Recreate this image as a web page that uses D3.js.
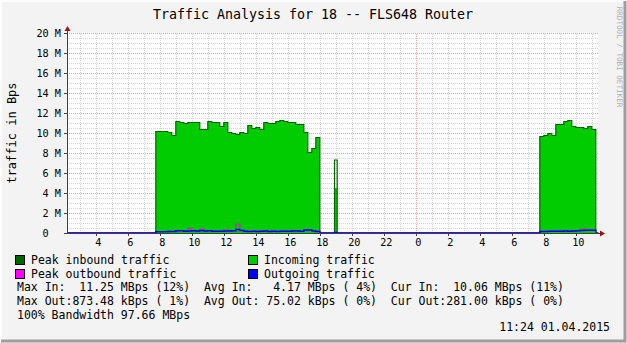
<!DOCTYPE html>
<html>
<head>
<meta charset="utf-8">
<script src="https://cdn.jsdelivr.net/npm/d3@7"></script>
<style>
  body { margin: 0; background: #f3f3f3; }
  text { font-family: "DejaVu Sans Mono", monospace; white-space: pre; }
</style>
</head>
<body>
<script>
// time is in hours relative to midnight of 01.04.2015 (negative = 31.03)
var viewStart = -21.8,
    viewEnd = 11.4;

var xTickHours = [-20, -18, -16, -14, -12, -10, -8, -6, -4, -2, 0, 2, 4, 6, 8, 10];
var xTickLabels = ["4", "6", "8", "10", "12", "14", "16", "18", "20", "22", "0", "2", "4", "6", "8", "10"];
var yTickValues = [0, 2, 4, 6, 8, 10, 12, 14, 16, 18, 20];
var yTickLabels = ["0  ", "2 M", "4 M", "6 M", "8 M", "10 M", "12 M", "14 M", "16 M", "18 M", "20 M"];

// day 1 block, 07:45 -> 18:00, 15 min steps, values in MBps
var day1Start = -16.25, day1Step = 0.25;
var day1In = [10.1, 10.1, 10.1, 10.0, 9.7, 11.1, 11.0, 10.9, 11.0, 11.0, 11.0, 10.3, 10.3, 11.1,
              11.0, 11.0, 10.6, 11.0, 10.0, 9.9, 9.8, 10.0, 9.9, 10.7, 10.4, 10.5, 10.3, 11.0,
              10.9, 10.9, 11.1, 11.2, 11.1, 11.0, 11.0, 10.8, 10.8, 10.0, 8.0, 8.4, 9.5];
var day1PeakIn = [10.15, 10.15, 10.15, 10.05, 9.75, 11.15, 11.05, 10.95, 11.05, 11.05, 11.05, 10.35, 10.35, 11.15,
                  11.05, 11.05, 10.65, 11.05, 10.05, 9.95, 9.85, 10.05, 9.95, 10.75, 10.45, 10.55, 10.35, 11.05,
                  10.95, 10.95, 11.15, 11.25, 11.15, 11.05, 11.05, 10.85, 10.85, 10.05, 8.05, 8.45, 9.55];
var day1Out = [0.13, 0.13, 0.13, 0.14, 0.15, 0.22, 0.22, 0.18, 0.2, 0.22, 0.2, 0.25, 0.2, 0.22,
               0.18, 0.17, 0.17, 0.2, 0.2, 0.22, 0.35, 0.25, 0.18, 0.15, 0.17, 0.16, 0.18, 0.2,
               0.16, 0.18, 0.15, 0.17, 0.18, 0.17, 0.2, 0.2, 0.18, 0.3, 0.3, 0.2, 0.15];
var day1PeakOut = [0.15, 0.15, 0.15, 0.16, 0.17, 0.24, 0.24, 0.2, 0.47, 0.24, 0.22, 0.37, 0.22, 0.24,
                   0.2, 0.19, 0.19, 0.3, 0.22, 0.24, 0.87, 0.27, 0.2, 0.17, 0.19, 0.18, 0.2, 0.22,
                   0.18, 0.2, 0.17, 0.19, 0.2, 0.19, 0.22, 0.22, 0.2, 0.33, 0.32, 0.22, 0.17];

// short burst around 18:55
var spikeStart = -5.08, spikeStep = 1 / 6;
var spikeIn = [4.5];
var spikePeakIn = [7.3];
var spikeOut = [0.05];
var spikePeakOut = [0.06];

// day 2 block, 07:45 -> 11:15
var day2Start = 7.75, day2Step = 0.25;
var day2In = [9.6, 9.7, 9.9, 9.7, 10.8, 10.8, 11.1, 11.2, 10.6, 10.5, 10.5, 10.4, 10.6, 10.3];
var day2PeakIn = [9.65, 9.75, 9.95, 9.75, 10.85, 10.85, 11.15, 11.25, 10.65, 10.55, 10.55, 10.45, 10.65, 10.35];
var day2Out = [0.15, 0.15, 0.17, 0.18, 0.17, 0.18, 0.2, 0.17, 0.2, 0.22, 0.25, 0.28, 0.27, 0.28];
var day2PeakOut = [0.17, 0.17, 0.19, 0.2, 0.19, 0.2, 0.22, 0.19, 0.22, 0.24, 0.4, 0.3, 0.35, 0.3];

var legendRows = [
  "Max In:  11.25 MBps (12%)  Avg In:   4.17 MBps ( 4%)  Cur In:  10.06 MBps (11%)",
  "Max Out:873.48 kBps ( 1%)  Avg Out: 75.02 kBps ( 0%)  Cur Out:281.00 kBps ( 0%)",
  "100% Bandwidth 97.66 MBps"
];

var width = 627,
    height = 343;

var svg = d3.select("body").append("svg")
    .attr("width", width)
    .attr("height", height);

// frame
svg.append("rect").attr("width", width).attr("height", height).attr("fill", "#f3f3f3");
svg.append("path").attr("d", "M1,342V1H626").attr("stroke", "#fcfcfc").attr("stroke-width", 2).attr("fill", "none");
svg.append("path").attr("d", "M1,341H625V1").attr("stroke", "#9e9e9e").attr("stroke-width", 3).attr("fill", "none");

var x = d3.scaleLinear().domain([viewStart, viewEnd]).range([67, 598.2]);
var y = d3.scaleLinear().domain([0, 20]).range([233, 33]);

// plot canvas
svg.append("rect")
    .attr("x", x(viewStart)).attr("y", y(20))
    .attr("width", x(viewEnd) - x(viewStart)).attr("height", y(0) - y(20))
    .attr("fill", "#ffffff");

var grid = svg.append("g").attr("shape-rendering", "crispEdges");

// minor grid
d3.range(0.5, 20.01, 0.5).forEach(function(v) {
  if (v % 2 == 0) return;
  grid.append("line").attr("x1", x(viewStart)).attr("x2", x(viewEnd))
      .attr("y1", Math.round(y(v)) + 0.5).attr("y2", Math.round(y(v)) + 0.5)
      .attr("stroke", "#d4d4d4").attr("stroke-dasharray", "1,1");
});
d3.range(Math.ceil(viewStart), viewEnd, 1).forEach(function(h) {
  if (h == 0) return;
  grid.append("line").attr("y1", y(0)).attr("y2", y(20))
      .attr("x1", Math.round(x(h)) + 0.5).attr("x2", Math.round(x(h)) + 0.5)
      .attr("stroke", "#d4d4d4").attr("stroke-dasharray", "1,1");
});
// major grid
yTickValues.forEach(function(v) {
  if (v == 0) return;
  grid.append("line").attr("x1", x(viewStart)).attr("x2", x(viewEnd))
      .attr("y1", Math.round(y(v)) + 0.5).attr("y2", Math.round(y(v)) + 0.5)
      .attr("stroke", "#e4a4a4").attr("stroke-dasharray", "1,1");
});
grid.append("line").attr("y1", y(0)).attr("y2", y(20))
    .attr("x1", Math.round(x(0)) + 0.5).attr("x2", Math.round(x(0)) + 0.5)
    .attr("stroke", "#e4a4a4").attr("stroke-dasharray", "1,1");

// build step series with zeros between blocks
function series(blocks, key) {
  var pts = [{t: viewStart, v: 0}];
  blocks.forEach(function(b) {
    b[key].forEach(function(v, i) { pts.push({t: b.start + i * b.step, v: v}); });
    pts.push({t: b.start + b[key].length * b.step, v: 0});
  });
  pts.push({t: viewEnd, v: 0});
  return pts;
}

var blocks = [
  {start: day1Start, step: day1Step, inn: day1In, peakIn: day1PeakIn, out: day1Out, peakOut: day1PeakOut},
  {start: spikeStart, step: spikeStep, inn: spikeIn, peakIn: spikePeakIn, out: spikeOut, peakOut: spikePeakOut},
  {start: day2Start, step: day2Step, inn: day2In, peakIn: day2PeakIn, out: day2Out, peakOut: day2PeakOut}
];

var area = d3.area().curve(d3.curveStepAfter)
    .x(d => x(d.t)).y0(y(0)).y1(d => y(d.v));
var line = d3.line().curve(d3.curveStepAfter)
    .x(d => x(d.t)).y(d => y(d.v));

svg.append("path").datum(series(blocks, "inn"))
    .attr("d", area).attr("fill", "#00cc00");
svg.append("path").datum(series(blocks, "peakIn"))
    .attr("d", line).attr("fill", "none").attr("stroke", "#006600").attr("stroke-width", 1.2);
svg.append("path").datum(series(blocks, "peakOut"))
    .attr("d", line).attr("fill", "none").attr("stroke", "#ff00ff").attr("stroke-width", 1.2);
svg.append("path").datum(series(blocks, "out"))
    .attr("d", line).attr("fill", "none").attr("stroke", "#0000ff").attr("stroke-width", 1.5);

// axes
var axisCol = "#404040";
svg.append("line").attr("x1", 67.5).attr("x2", 67.5).attr("y1", y(0)).attr("y2", 30)
    .attr("stroke", axisCol);
svg.append("line").attr("x1", 67).attr("x2", 601).attr("y1", 233.5).attr("y2", 233.5)
    .attr("stroke", axisCol);
svg.append("path").attr("d", "M64.5,31L67.5,26L70.5,31Z").attr("fill", "#a01010");
svg.append("path").attr("d", "M600,230.5L605,233.5L600,236.5Z").attr("fill", "#a01010");

yTickValues.forEach(function(v, i) {
  svg.append("line").attr("x1", 64).attr("x2", 67)
      .attr("y1", Math.round(y(v)) + 0.5).attr("y2", Math.round(y(v)) + 0.5).attr("stroke", axisCol);
  svg.append("text").attr("x", 61).attr("y", y(v) + 3.5)
      .attr("text-anchor", "end").attr("font-size", "10.2px").attr("fill", "#000")
      .text(yTickLabels[i]);
});
xTickHours.forEach(function(h, i) {
  svg.append("line").attr("x1", Math.round(x(h)) + 0.5).attr("x2", Math.round(x(h)) + 0.5)
      .attr("y1", 233).attr("y2", 236).attr("stroke", axisCol);
  svg.append("text").attr("x", x(h) + 2.5).attr("y", 246)
      .attr("text-anchor", "middle").attr("font-size", "10.2px").attr("fill", "#000")
      .text(xTickLabels[i]);
});

// title and axis label
svg.append("text").attr("x", 313).attr("y", 18.5).attr("text-anchor", "middle")
    .attr("font-size", "13.3px").attr("fill", "#000")
    .text("Traffic Analysis for 18 -- FLS648 Router");
svg.append("text").attr("transform", "translate(16,133) rotate(-90)")
    .attr("text-anchor", "middle").attr("font-size", "12px").attr("fill", "#000")
    .text("traffic in Bps");
svg.append("text").attr("transform", "translate(617,57) rotate(90)")
    .attr("text-anchor", "middle").attr("font-size", "7.6px").attr("fill", "#b0b0b0")
    .text("RRDTOOL / TOBI OETIKER");

// legend
var legendItems = [
  {col: "#006600", label: "Peak inbound traffic", x: 15, y: 255},
  {col: "#00cc00", label: "Incoming traffic", x: 248, y: 255},
  {col: "#ff00ff", label: "Peak outbound traffic", x: 15, y: 269},
  {col: "#0000ff", label: "Outgoing traffic", x: 248, y: 269}
];
legendItems.forEach(function(d) {
  svg.append("rect").attr("x", d.x + 0.5).attr("y", d.y + 0.5).attr("width", 9).attr("height", 9)
      .attr("fill", d.col).attr("stroke", "#000").attr("stroke-width", 1);
  svg.append("text").attr("x", d.x + 16).attr("y", d.y + 8.5)
      .attr("font-size", "11.5px").attr("fill", "#000").text(d.label);
});
legendRows.forEach(function(r, i) {
  svg.append("text").attr("x", 17).attr("y", 291 + i * 14)
      .attr("font-size", "11.5px").attr("fill", "#000").text(r);
});
svg.append("text").attr("x", 610).attr("y", 331).attr("text-anchor", "end")
    .attr("font-size", "11.5px").attr("fill", "#000").text("11:24 01.04.2015");
</script>
</body>
</html>
